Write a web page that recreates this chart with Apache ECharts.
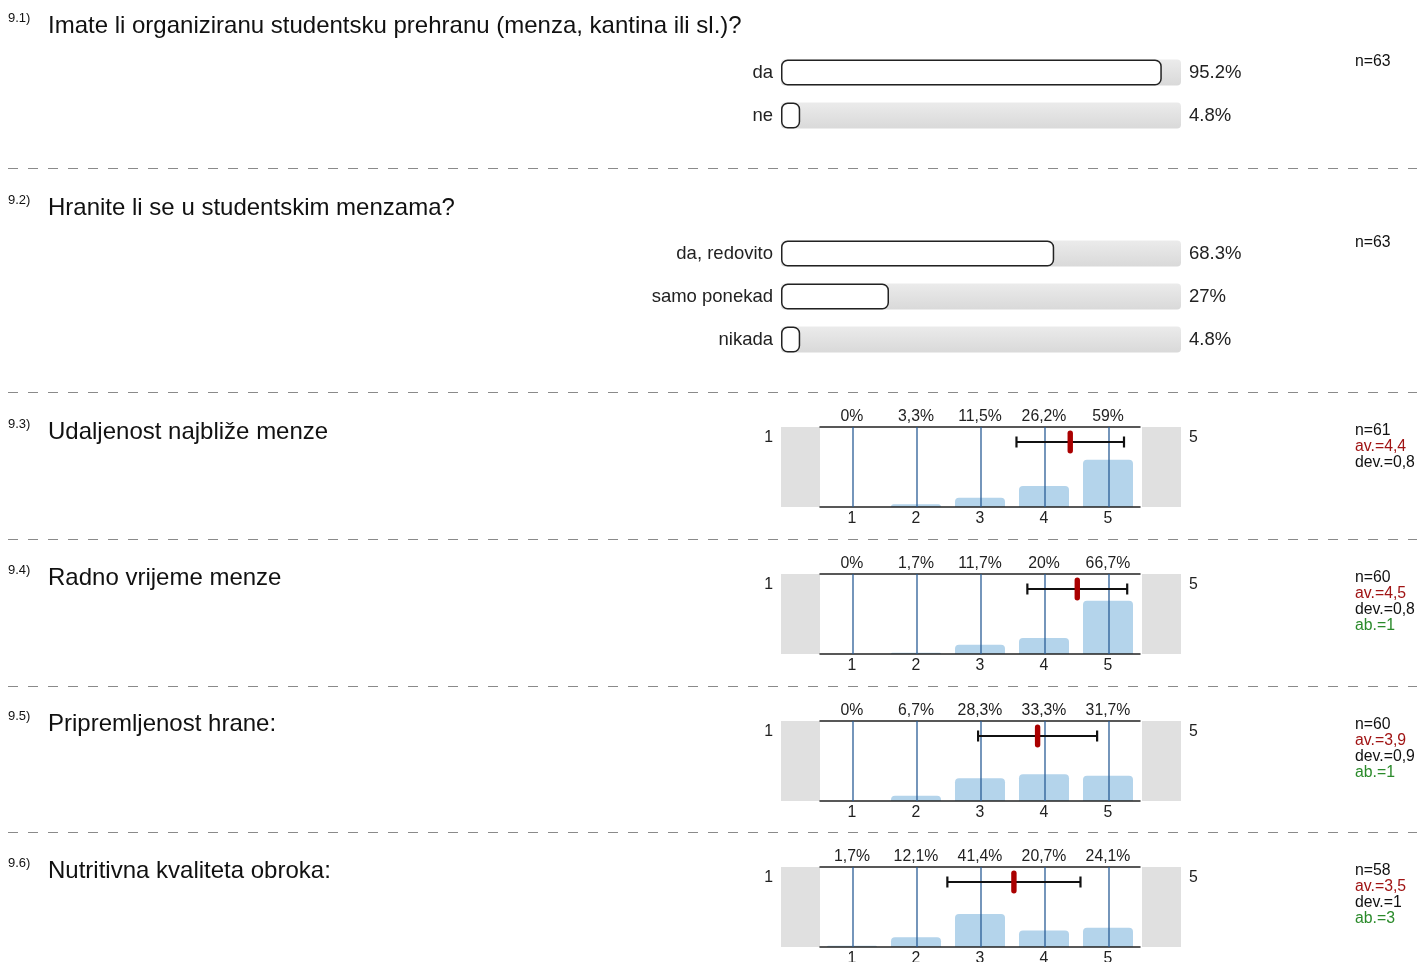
<!DOCTYPE html>
<html>
<head>
<meta charset="utf-8">
<script src="https://cdn.jsdelivr.net/npm/echarts@6/dist/echarts.min.js"></script>
<style>
  html, body { margin: 0; padding: 0; background: #fff; }
  #main { width: 1417px; height: 962px; }
</style>
</head>
<body>
<div id="main"></div>
<script>
// podaci iz ankete
const qNumbers = ['9.1)', '9.2)', '9.3)', '9.4)', '9.5)', '9.6)'];
const qTitles = [
  'Imate li organiziranu studentsku prehranu (menza, kantina ili sl.)?',
  'Hranite li se u studentskim menzama?',
  'Udaljenost najbliže menze',
  'Radno vrijeme menze',
  'Pripremljenost hrane:',
  'Nutritivna kvaliteta obroka:'
];
const qN = [63, 63, 61, 60, 60, 58];

const q1Answers = ['da', 'ne'];
const q1Pct = [95.2, 4.8];
const q2Answers = ['da, redovito', 'samo ponekad', 'nikada'];
const q2Pct = [68.3, 27, 4.8];

const scalePoints = ['1', '2', '3', '4', '5'];
const q3Pct = [0, 3.3, 11.5, 26.2, 59];
const q4Pct = [0, 1.7, 11.7, 20, 66.7];
const q5Pct = [0, 6.7, 28.3, 33.3, 31.7];
const q6Pct = [1.7, 12.1, 41.4, 20.7, 24.1];
const scaleMean = [4.41, 4.52, 3.9, 3.53];
const scaleDev = [0.84, 0.78, 0.93, 1.04];
const avText = ['4,4', '4,5', '3,9', '3,5'];
const devText = ['0,8', '0,8', '0,9', '1'];
const abText = [null, '1', '1', '3'];

const FONT = '"Liberation Sans", Arial, sans-serif';
const SMALL = 15.8;
var myChart = echarts.init(document.getElementById('main'), null, { renderer: 'canvas' });

var grid = [], xAxis = [], yAxis = [], series = [], graphic = [];

function txt(x, y, text, size, color, align) {
  graphic.push({
    type: 'text', x: x, y: y, silent: true,
    style: { text: text, font: size + 'px ' + FONT, fill: color || '#111',
      textAlign: align || 'left', textVerticalAlign: 'middle' }
  });
}

function addChoice(top, cats, pct) {
  var gi = grid.length;
  grid.push({ left: 781, top: top, width: 400, height: cats.length * 43, outerBoundsMode: 'none' });
  var xi = xAxis.length;
  xAxis.push({ gridIndex: gi, type: 'value', min: 0, max: 100, show: false });
  var yi = yAxis.length;
  yAxis.push({
    gridIndex: gi, type: 'category', inverse: true, data: cats,
    axisLine: { show: false }, axisTick: { show: false }, splitLine: { show: false },
    axisLabel: { fontSize: 18.5, color: '#222', margin: 8, fontFamily: FONT }
  });
  // siva podloga
  series.push({
    type: 'bar', xAxisIndex: xi, yAxisIndex: yi, silent: true,
    data: cats.map(function () { return 100; }),
    barWidth: 26, barGap: '-100%',
    itemStyle: {
      borderRadius: 4,
      color: new echarts.graphic.LinearGradient(0, 0, 0, 1, [
        { offset: 0, color: '#ebebeb' },
        { offset: 1, color: '#d9d9d9' }
      ])
    },
    label: {
      show: true, position: 'right', distance: 8, fontSize: 18.5, color: '#222', fontFamily: FONT,
      formatter: function (p) { return pct[p.dataIndex] + '%'; }
    }
  });
  series.push({
    type: 'bar', xAxisIndex: xi, yAxisIndex: yi, silent: true,
    data: pct, barWidth: 26, barGap: '-100%',
    itemStyle: { color: '#fff', borderColor: '#222', borderWidth: 1.5, borderRadius: 6 }
  });
}

function addScale(top, pct, mean, dev) {
  var gi = grid.length;
  grid.push({ left: 820, top: top, width: 320, height: 80, outerBoundsMode: 'none' });
  var xb = xAxis.length;
  xAxis.push({
    gridIndex: gi, type: 'category', position: 'bottom', data: scalePoints, z: 5,
    axisLine: { lineStyle: { color: '#222', width: 1.5 } },
    axisTick: { show: false },
    axisLabel: { fontSize: SMALL, color: '#222', margin: 4, fontFamily: FONT }
  });
  xAxis.push({
    gridIndex: gi, type: 'category', position: 'top', z: 5,
    data: pct.map(function (v) { return String(v).replace('.', ',') + '%'; }),
    axisLine: { lineStyle: { color: '#222', width: 1.5 } },
    axisTick: { show: false },
    axisLabel: { fontSize: SMALL, color: '#222', margin: 2, fontFamily: FONT }
  });
  var xv = xAxis.length;
  xAxis.push({ gridIndex: gi, type: 'value', min: 0.5, max: 5.5, show: false });
  var yi = yAxis.length;
  yAxis.push({ gridIndex: gi, type: 'value', min: 0, max: 100, show: false });

  series.push({
    type: 'bar', xAxisIndex: xb, yAxisIndex: yi, silent: true,
    data: pct, barWidth: 50,
    itemStyle: { color: '#b4d4eb', borderRadius: [4, 4, 0, 0] }
  });
  // okomite linije na tockama skale + raspon (av. +- dev.)
  series.push({
    type: 'custom', xAxisIndex: xv, yAxisIndex: yi, silent: true, z: 10,
    data: [[mean, dev]],
    renderItem: function (params, api) {
      var m = api.value(0), d = api.value(1);
      var cs = params.coordSys;
      var y = cs.y + 15;
      var x1 = api.coord([m - d, 0])[0];
      var x2 = api.coord([m + d, 0])[0];
      var xm = api.coord([m, 0])[0];
      var st = { stroke: '#111', lineWidth: 2.2 };
      var kids = scalePoints.map(function (s) {
        var xs = Math.round(api.coord([Number(s), 0])[0]) + 1;
        return { type: 'line', shape: { x1: xs, y1: cs.y, x2: xs, y2: cs.y + cs.height },
          style: { stroke: '#2a5d96', lineWidth: 1.3 } };
      });
      return {
        type: 'group', children: kids.concat([
          { type: 'line', shape: { x1: x1, y1: y, x2: x2, y2: y }, style: st },
          { type: 'line', shape: { x1: x1, y1: y - 5.5, x2: x1, y2: y + 5.5 }, style: st },
          { type: 'line', shape: { x1: x2, y1: y - 5.5, x2: x2, y2: y + 5.5 }, style: st },
          { type: 'rect', shape: { x: xm - 2.7, y: y - 11.5, width: 5.4, height: 23, r: 2.7 }, style: { fill: '#aa0000' } }
        ])
      };
    }
  });

  // sive ploce lijevo i desno
  graphic.push({ type: 'rect', silent: true, shape: { x: 781, y: top, width: 39, height: 80 }, style: { fill: '#e0e0e0' } });
  graphic.push({ type: 'rect', silent: true, shape: { x: 1142, y: top, width: 39, height: 80 }, style: { fill: '#e0e0e0' } });
  txt(773, top + 11, '1', SMALL, '#222', 'right');
  txt(1189, top + 11, '5', SMALL, '#222', 'left');
}

// naslovi
var titleY = [24, 206, 430, 576, 722, 869];
for (var i = 0; i < qTitles.length; i++) {
  txt(8, titleY[i] - 6, qNumbers[i], 13, '#111');
  txt(48, titleY[i] + 2, qTitles[i], 24, '#111');
}

// isprekidane linije
[168, 392, 539, 686, 832].forEach(function (y) {
  graphic.push({ type: 'line', silent: true, shape: { x1: 8, y1: y + 0.5, x2: 1417, y2: y + 0.5 },
    style: { stroke: '#8a8a8a', lineWidth: 1, lineDash: [10, 10] } });
});

addChoice(51, q1Answers, q1Pct);
addChoice(232, q2Answers, q2Pct);
txt(1355, 62, 'n=' + qN[0], SMALL, '#111');
txt(1355, 243, 'n=' + qN[1], SMALL, '#111');

var scaleTop = [427, 574, 721, 867];
var scalePct = [q3Pct, q4Pct, q5Pct, q6Pct];
for (var k = 0; k < 4; k++) {
  var t = scaleTop[k];
  addScale(t, scalePct[k], scaleMean[k], scaleDev[k]);
  txt(1355, t + 3.5, 'n=' + qN[k + 2], SMALL, '#111');
  txt(1355, t + 19.5, 'av.=' + avText[k], SMALL, '#a01414');
  txt(1355, t + 35.5, 'dev.=' + devText[k], SMALL, '#111');
  if (abText[k]) txt(1355, t + 51.5, 'ab.=' + abText[k], SMALL, '#2a8a2a');
}

var option = {
  animation: false,
  backgroundColor: '#fff',
  textStyle: { fontFamily: FONT },
  grid: grid,
  xAxis: xAxis,
  yAxis: yAxis,
  series: series,
  graphic: graphic
};
myChart.setOption(option);
</script>
</body>
</html>
